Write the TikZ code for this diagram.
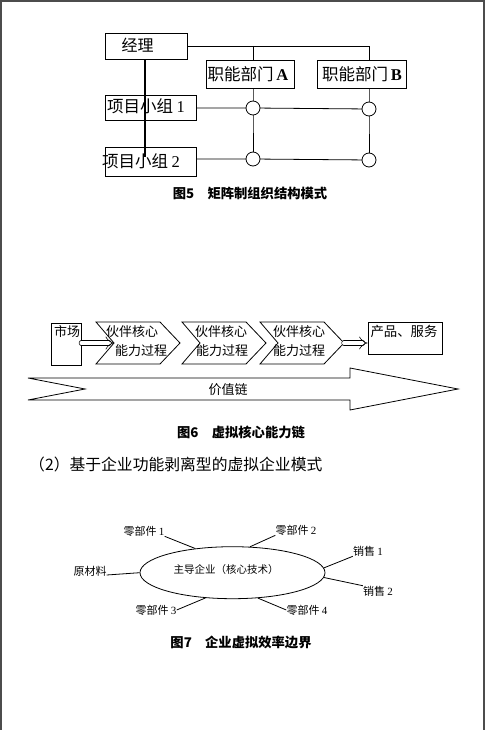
\documentclass[tikz,border=0pt]{standalone}
\usepackage{fontspec}
\setmainfont{Liberation Serif}
\newfontfamily\cjk{Noto Sans CJK SC}
\usetikzlibrary{shapes.geometric,arrows.meta}
\tikzset{
  box/.style={draw, line width=0.8pt, inner sep=0pt},
  lbl/.style={inner sep=0pt, font=\cjk\fontsize{#1}{#1}\selectfont},
  lbl/.default=13,
  captxt/.style={inner sep=0pt, font=\cjk\bfseries\fontsize{13.3}{13.3}\selectfont},
  thinline/.style={line width=0.8pt},
  joint/.style={circle, draw, line width=0.8pt, fill=white, minimum size=14pt, inner sep=0pt},
  dblarrow/.style={double, double distance=4pt, line width=0.6pt, line cap=round, -{Implies}},
  spoke/.style={line width=0.8pt}
}
\begin{document}
\begin{tikzpicture}[x=1pt,y=-1pt]
\useasboundingbox (0,0) rectangle (485,730);
\fill[white] (0,0) rectangle (485,730);
% page border
\draw[line width=2pt, black!70] (0,1) -- (485,1);
\draw[line width=2pt, black!70] (1,0) -- (1,730);
\draw[line width=2pt, black!70] (484,0) -- (484,730);

% ===== Figure 5 =====
\node[box, minimum width=82pt, minimum height=26pt] (mgr) at (146,46) {};
\node[lbl=16] (mgrt) at (137.5,45) {经理};
\node[box, minimum width=88pt, minimum height=28pt] (fa) at (250,74) {};
\node[lbl=16.5] (fat) at (248,74) {职能部门\,\textbf{\fontspec{Liberation Serif}A}};
\node[box, minimum width=89pt, minimum height=28pt] (fb) at (361.5,74) {};
\node[lbl=16.5] (fbt) at (362,74) {职能部门\,\textbf{\fontspec{Liberation Serif}B}};
\node[box, minimum width=91pt, minimum height=25pt] (g1) at (150.5,107.5) {};
\node[box, minimum width=91pt, minimum height=29pt] (g2) at (150.5,161.5) {};

\coordinate (ca) at (253,46);
\coordinate (cb) at (369,46);
\coordinate (thickend) at (145,157);
\draw[thinline] (mgr.east |- ca) -- (cb) -- (fb.north -| cb);
\draw[thinline] (ca) -- (fa.north -| ca);
\draw[line width=2.2pt] (mgr.south -| thickend) -- (thickend);

\coordinate (a1) at (253,108);
\coordinate (b1) at (369,109);
\coordinate (a2) at (253,159);
\coordinate (b2) at (369,160);
\draw[thinline] (g1.east |- a1) -- (a1) -- (b1);
\draw[thinline] (g2.east |- a2) -- (a2) -- (b2);
\draw[thinline] (fa.south -| a1) -- (a1) -- (a2);
\draw[thinline] (fb.south -| b1) -- (b1) -- (b2);
\node[joint] (ja1) at (a1) {};
\node[joint] (jb1) at (b1) {};
\node[joint] (ja2) at (a2) {};
\node[joint] (jb2) at (b2) {};
\node[lbl=16.5] (g1t) at (146,106) {项目小组 \fontspec{Liberation Serif}1};
\node[lbl=16.5] (g2t) at (141,161) {项目小组 \fontspec{Liberation Serif}2};

\node[captxt] (cap5) at (250,193) {图5\quad 矩阵制组织结构模式};

% ===== Figure 6 =====
\node[box, minimum width=30pt, minimum height=42pt] (mk) at (66,344) {};
\node[lbl=13] (mkt) at (67,331) {市场};
\foreach \L in {96,182,260}{
  \draw[thinline] (\L,322) -- (\L+64,322) -- (\L+84,343) -- (\L+64,364) -- (\L,364) -- (\L+18,343) -- cycle;
}
\coordinate (notch1) at (114,343);
\coordinate (tip3) at (344,343);
\node[lbl=13] (c1a) at (132,332) {伙伴核心};
\node[lbl=13] (c1b) at (141,351) {能力过程};
\node[lbl=13] (c2a) at (221,332) {伙伴核心};
\node[lbl=13] (c2b) at (222,351) {能力过程};
\node[lbl=13] (c3a) at (299,332) {伙伴核心};
\node[lbl=13] (c3b) at (299,351) {能力过程};
\node[box, minimum width=74pt, minimum height=32pt] (pb) at (405,338) {};
\node[lbl=13.4] (pbt) at (404,331) {产品、服务};
\draw[dblarrow] (mk.east |- notch1) -- (notch1);
\draw[dblarrow] (tip3) -- (pb.west |- tip3);

\draw[thinline] (28,378) -- (350,378) -- (350,368) -- (458,389) -- (350,410) -- (350,400) -- (28,400) -- (85,389) -- cycle;
\node[lbl=13] (vc) at (228,390) {价值链};

\node[captxt] (cap6) at (241,432) {图6\quad 虚拟核心能力链};

\node[lbl=15.8, anchor=west] (head) at (29,464) {（2）基于企业功能剥离型的虚拟企业模式};

% ===== Figure 7 =====
\node[ellipse, draw, line width=0.8pt, minimum width=185pt, minimum height=52pt, inner sep=0pt] (e) at (232.5,572.7) {};
\node[lbl=10.5] (et) at (226,570) {主导企业（核心技术）};
\node[lbl=11] (l1) at (144,531) {零部件 \fontspec{Liberation Serif}1};
\node[lbl=11] (l2) at (296,530) {零部件 \fontspec{Liberation Serif}2};
\node[lbl=11] (l3) at (368,551) {销售 \fontspec{Liberation Serif}1};
\node[lbl=11] (l4) at (378,591) {销售 \fontspec{Liberation Serif}2};
\node[lbl=11] (l5) at (90,571) {原材料};
\node[lbl=11] (l6) at (156,610) {零部件 \fontspec{Liberation Serif}3};
\node[lbl=11] (l7) at (307,610) {零部件 \fontspec{Liberation Serif}4};
\draw[spoke] (l1.south east) -- (e.147);
\draw[spoke] (l2.south west) -- (e.56);
\draw[spoke] (l3.south west) -- (e.3);
\draw[spoke] (l4.north west) -- (e.-3);
\draw[spoke] ([yshift=-4pt]l5.east) -- (e.west);
\draw[spoke] (l6.east) -- (e.-137);
\draw[spoke] (l7.west) -- (e.-45);

\node[captxt] (cap7) at (241,642) {图7\quad 企业虚拟效率边界};
\end{tikzpicture}
\end{document}
